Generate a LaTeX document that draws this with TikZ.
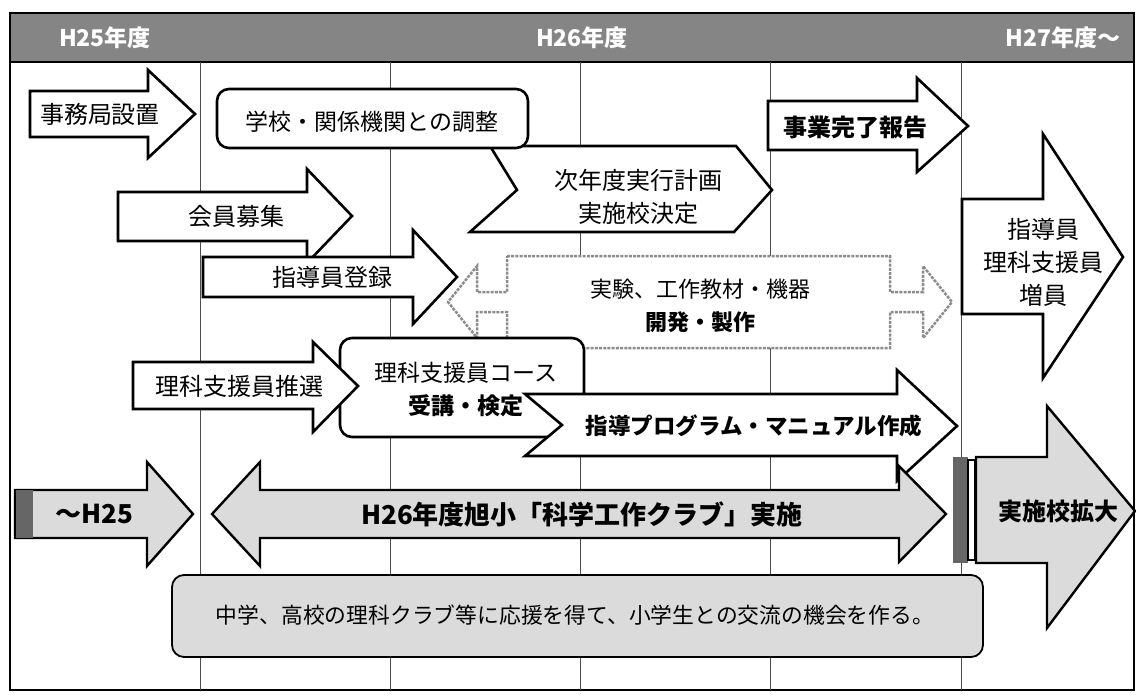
\documentclass[tikz,border=0pt]{standalone}
\usepackage{fontspec}
\setmainfont{Noto Sans CJK JP}
\begin{document}
\begin{tikzpicture}[x=1pt,y=-1pt,
  wshape/.style={draw=black,line width=2.6pt,fill=white,line join=miter},
  gshape/.style={draw=black,line width=2.4pt,fill=black!14,line join=miter},
  lbl/.style={font=\fontsize{24}{33}\selectfont,align=center,inner sep=0pt},
  blbl/.style={font=\fontsize{24}{33}\selectfont\bfseries,align=center,inner sep=0pt},
  hdr/.style={font=\fontsize{23}{28}\selectfont\bfseries,text=white,inner sep=0pt},
  vline/.style={draw=black!70,line width=0.8pt},
  dshape/.style={draw=black!45,line width=2.5pt,dash pattern=on 3pt off 1.2pt,fill=white,line join=miter}
]
\useasboundingbox (0,0) rectangle (1136,698);
% header band and frame
\fill[black!48] (10,13) rectangle (1134,62);
\draw[line width=2pt] (10,13) rectangle (1134,690);
\draw[line width=2.5pt] (10,62) -- (1134,62);
\foreach \x in {200,390,580,770,961} \draw[vline] (\x,62) -- (\x,690);
\node[hdr] (h25) at (105,38) {H25年度};
\node[hdr] (h26) at (582,38) {H26年度};
\node[hdr] (h27) at (1063,38) {H27年度〜};

% row 1
\draw[wshape] (30,91) -- (148,91) -- (148,70) -- (195,114) -- (148,158) -- (148,137) -- (30,137) -- cycle;
\node[lbl] (jimu) at (100,114) {事務局設置};
\draw[wshape] (490,146) -- (736,146) -- (772,190) -- (734,232) -- (470,232) -- (517,190) -- cycle;
\node[lbl] (jinen) at (638,197) {次年度実行計画\\実施校決定};
\draw[wshape,rounded corners=12pt] (217,89) rectangle (528,148);
\node[lbl,font=\fontsize{23}{30}\selectfont] (gakko) at (372,122) {学校・関係機関との調整};
\draw[wshape] (768,101) -- (917,101) -- (917,78) -- (968,126) -- (917,172) -- (917,150) -- (768,150) -- cycle;
\node[blbl] (jigyo) at (855,127) {事業完了報告};

% row 2-3
\draw[wshape] (118,192) -- (307,192) -- (307,169) -- (352,216) -- (307,263) -- (307,241) -- (118,241) -- cycle;
\node[lbl] (kaiin) at (236,216) {会員募集};
\draw[wshape] (203,257) -- (413,257) -- (413,230) -- (457,277) -- (413,324) -- (413,297) -- (203,297) -- cycle;
\node[lbl] (shido) at (332,277) {指導員登録};
\draw[dshape] (507,256) -- (890,256) -- (890,292) -- (923,292) -- (923,266) -- (952,302) -- (923,338) -- (923,312) -- (890,312) -- (890,348) -- (507,348) -- (507,312) -- (477,312) -- (477,338) -- (448,302) -- (477,266) -- (477,292) -- (507,292) -- cycle;
\node[lbl,font=\fontsize{22}{33}\selectfont] (jikken) at (700,306) {実験、工作教材・機器\\\textbf{開発・製作}};

% big arrow right
\draw[wshape] (962,199) -- (1043,199) -- (1043,134) -- (1123,257) -- (1043,378) -- (1043,314) -- (962,314) -- cycle;
\node[lbl] (zoin) at (1043,262) {指導員\\理科支援員\\増員};

% row 4
\draw[wshape,rounded corners=12pt] (340,338) rectangle (584,437);
\node[lbl,font=\fontsize{23}{33}\selectfont] (course) at (466,390) {理科支援員コース\\\textbf{受講・検定}};
\draw[wshape] (133,362) -- (313,362) -- (313,342) -- (358,386) -- (313,432) -- (313,409) -- (133,409) -- cycle;
\node[lbl] (suisen) at (239,386) {理科支援員推選};
\draw[wshape] (525,394) -- (897,394) -- (897,370) -- (957,426) -- (897,481) -- (897,456) -- (525,456) -- (562,425) -- cycle;
\node[blbl,font=\fontsize{22.5}{30}\selectfont\bfseries] (prog) at (754,426) {指導プログラム・マニュアル作成};

% row 5
\draw[gshape] (15,490) -- (147,490) -- (147,462) -- (193,514) -- (147,566) -- (147,538) -- (15,538) -- cycle;
\fill[black!60] (15,490) rectangle (33,538);
\draw[line width=2.4pt] (15,490) -- (15,538);
\node[blbl,font=\fontsize{26}{30}\selectfont\bfseries] (h25b) at (94,514) {～H25};
\draw[gshape] (212,514) -- (260,462) -- (260,490) -- (899,490) -- (899,466) -- (946,514) -- (899,562) -- (899,538) -- (260,538) -- (260,566) -- cycle;
\node[blbl,font=\fontsize{26}{30}\selectfont\bfseries] (club) at (582,514) {H26年度旭小「科学工作クラブ」実施};

\fill[black!60] (953,457) rectangle (968,563);
\draw[line width=1.2pt,fill=white] (968,460) rectangle (975,560);
\draw[gshape] (976,457) -- (1047,457) -- (1047,406) -- (1135,511) -- (1047,628) -- (1047,563) -- (976,563) -- cycle;
\node[blbl] (kakudai) at (1058,511) {実施校拡大};

% bottom box
\draw[gshape,line width=1.8pt,rounded corners=12pt] (172,575) rectangle (983,657);
\node[lbl,font=\fontsize{21.8}{30}\selectfont] (koryu) at (575,615) {中学、高校の理科クラブ等に応援を得て、小学生との交流の機会を作る。};
\end{tikzpicture}
\end{document}
